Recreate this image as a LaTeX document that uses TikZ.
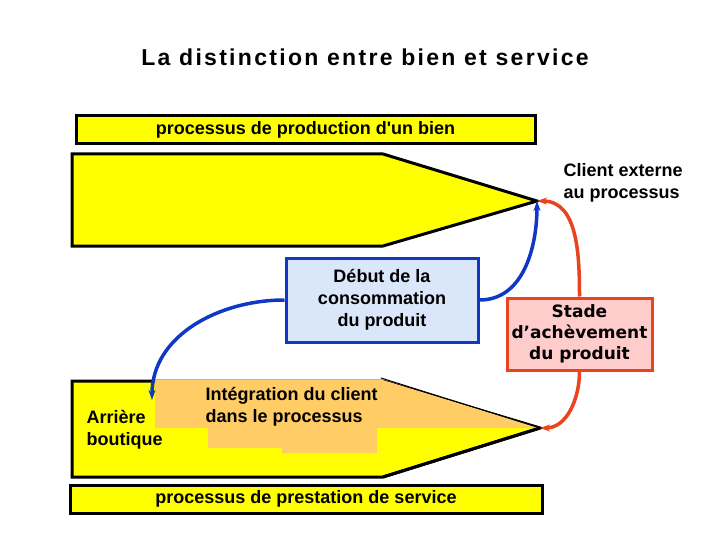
\documentclass[tikz,border=0pt]{standalone}
\usepackage{fontspec}
\setmainfont{Liberation Sans}
\newfontfamily\wide{DejaVu Sans}
\usetikzlibrary{arrows.meta}
\definecolor{jaune}{RGB}{255,255,0}
\definecolor{orangeclair}{RGB}{255,204,102}
\definecolor{bleufond}{RGB}{218,230,250}
\definecolor{bleutrait}{RGB}{16,56,196}
\definecolor{rougefond}{RGB}{255,204,204}
\definecolor{rougetrait}{RGB}{232,68,32}
\begin{document}
\begin{tikzpicture}[x=1pt,y=-1pt,
	txt/.style={font=\fontsize{18}{22}\selectfont\bfseries},
	bar/.style={draw=black,line width=3pt,fill=jaune,inner sep=0pt,minimum height=28pt,txt},
	bluearrow/.style={draw=bleutrait,line width=3.5pt,-{Stealth[length=10pt,width=7pt]}},
	redarrow/.style={draw=rougetrait,line width=3.5pt,-{Stealth[length=10pt,width=7pt]}}]
	\useasboundingbox (0,0) rectangle (720,540);
	\fill[white] (0,0) rectangle (720,540);
	
	% titre
	\node[font=\fontsize{23}{26}\selectfont\bfseries\addfontfeature{LetterSpace=10}] (title) at (365,57) {La distinction entre bien et service};
	
	% processus de production
	\node[bar,minimum width=459pt] (bienbar) at (305.5,130) {processus de production d\textquotesingle un bien};
	\draw[line width=3pt,fill=jaune,line join=miter] (72,154) -- (383,154) -- (537,201) -- (383,246) -- (72,246) -- cycle;
	\coordinate (tiptop) at (537,201);
	
	% processus de service
	\draw[line width=3pt,fill=jaune,line join=miter] (72,381) -- (383,381) -- (540,428) -- (383,477) -- (72,477) -- cycle;
	\fill[orangeclair] (155,379.5) -- (381,379.5) -- (540,428) -- (377,428) -- (377,453) -- (282,453) -- (282,448) -- (208,448) -- (208,428) -- (155,428) -- cycle;
	\draw[line width=1pt] (381,378) -- (540,428);
	\draw[line width=3pt] (383,477) -- (540,428);
	\coordinate (tipbot) at (540,428);
	\coordinate (arriere) at (152,400);
	\node[bar,minimum width=472pt] (servicebar) at (306,499) {processus de prestation de service};
	
	\node[txt,anchor=west,align=left] (arrtext) at (83,430) {Arrière\\boutique};
	\node[txt,anchor=west,align=left] (integ) at (202,407) {Intégration du client\\dans le processus};
	\node[txt,anchor=west,align=left] (client) at (560,183) {Client externe\\au processus};
	
	% boites
	\node[txt,draw=bleutrait,line width=3pt,fill=bleufond,minimum width=192pt,minimum height=84pt,align=center,inner sep=0pt] (debut) at (382,300) {Début de la\\consommation\\du produit};
	\node[draw=rougetrait,line width=3pt,fill=rougefond,minimum width=145pt,minimum height=72pt,align=center,inner sep=0pt,font=\wide\fontsize{17}{21}\selectfont\bfseries] (stade) at (579.5,334) {Stade\\d’achèvement\\du produit};
	
	% fleches
	\draw[bluearrow] (debut.west) to[out=180,in=90] (arriere);
	\draw[bluearrow] (debut.east) to[out=0,in=-90] (tiptop);
	\draw[redarrow] (stade.north) to[out=90,in=0] (tiptop);
	\draw[redarrow] (stade.south) to[out=-90,in=0] (tipbot);
\end{tikzpicture}
\end{document}
